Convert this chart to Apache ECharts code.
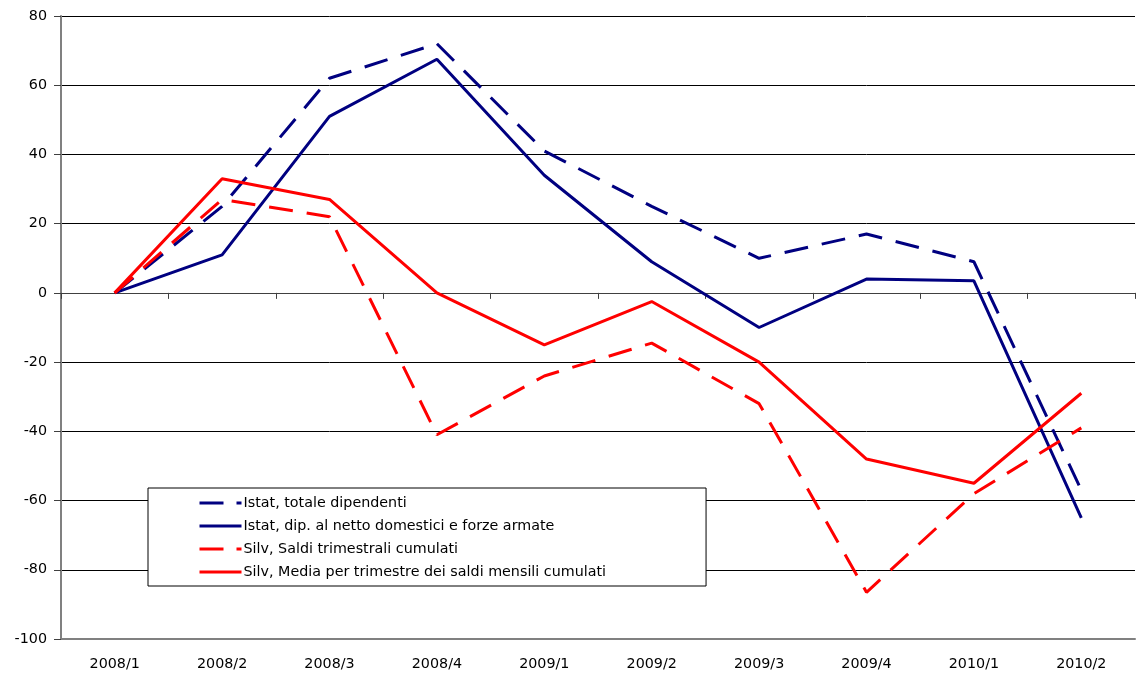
<!DOCTYPE html>
<html>
<head>
<meta charset="utf-8">
<script src="https://cdn.jsdelivr.net/npm/echarts@6/dist/echarts.min.js"></script>
<style>
  html, body { margin: 0; padding: 0; background: #fff; }
  #main { width: 1137px; height: 677px; }
</style>
</head>
<body>
<div id="main"></div>
<script>
  var quarters = ['2008/1', '2008/2', '2008/3', '2008/4', '2009/1', '2009/2', '2009/3', '2009/4', '2010/1', '2010/2'];
  var istatTotale = [0, 25, 62, 72, 41, 25, 10, 17, 9, -57];
  var istatNetto = [0, 11, 51, 67.5, 34, 9, -10, 4, 3.5, -65];
  var silvSaldi = [0, 27, 22, -41, -24, -14.5, -32, -86.5, -58, -39];
  var silvMedia = [0, 33, 27, 0, -15, -2.5, -20, -48, -55, -29];
  var seriesNames = ['Istat, totale dipendenti', 'Istat, dip. al netto domestici e forze armate',
                     'Silv, Saldi trimestrali cumulati', 'Silv, Media per trimestre dei saldi mensili cumulati'];

  var fontFam = 'DejaVu Sans';
  var dash = [24, 14];
  var legendDash = [24, 13];

  function legendItem(name, dashed) {
    return {
      name: name,
      itemStyle: { opacity: 0 },
      lineStyle: { width: 3, type: dashed ? legendDash : 'solid' }
    };
  }

  var myChart = echarts.init(document.getElementById('main'));
  var option = {
    animation: false,
    backgroundColor: '#fff',
    textStyle: { fontFamily: fontFam },
    grid: { left: 61, right: 2, top: 16, bottom: 38 },
    legend: {
      orient: 'vertical',
      left: 148,
      top: 488,
      padding: [8, 100, 7, 50],
      itemWidth: 42,
      itemHeight: 14,
      itemGap: 9,
      backgroundColor: '#fff',
      borderColor: '#000',
      borderWidth: 1,
      borderRadius: 0,
      textStyle: { fontFamily: fontFam, fontSize: 14.3, color: '#000', padding: [0, 0, 0, -3] },
      data: [
        legendItem(seriesNames[0], true),
        legendItem(seriesNames[1], false),
        legendItem(seriesNames[2], true),
        legendItem(seriesNames[3], false)
      ]
    },
    xAxis: [
      {
        type: 'category',
        data: quarters,
        position: 'bottom',
        boundaryGap: true,
        axisLine: { onZero: false, lineStyle: { color: '#808080', width: 2 } },
        axisTick: { show: false },
        axisLabel: { margin: 18, fontSize: 14.3, color: '#000', fontFamily: fontFam }
      },
      {
        type: 'category',
        data: quarters,
        position: 'top',
        boundaryGap: true,
        axisLine: { onZero: true, lineStyle: { color: '#404040', width: 1 } },
        axisTick: { show: true, inside: true, length: 6, lineStyle: { color: '#404040' } },
        axisLabel: { show: false }
      }
    ],
    yAxis: {
      type: 'value',
      min: -100,
      max: 80,
      interval: 20,
      axisLine: { show: true, lineStyle: { color: '#808080', width: 2 } },
      axisTick: { show: true, length: 7, lineStyle: { color: '#404040' } },
      axisLabel: { margin: 14, fontSize: 14.3, color: '#000', fontFamily: fontFam },
      splitLine: { show: true, lineStyle: { color: '#000', width: 1 } }
    },
    series: [
      {
        name: seriesNames[0],
        type: 'line',
        data: istatTotale,
        symbol: 'none',
        color: '#000080',
        lineStyle: { color: '#000080', width: 3, type: dash }
      },
      {
        name: seriesNames[1],
        type: 'line',
        data: istatNetto,
        symbol: 'none',
        color: '#000080',
        lineStyle: { color: '#000080', width: 3 }
      },
      {
        name: seriesNames[2],
        type: 'line',
        data: silvSaldi,
        symbol: 'none',
        color: '#ff0000',
        lineStyle: { color: '#ff0000', width: 3, type: dash }
      },
      {
        name: seriesNames[3],
        type: 'line',
        data: silvMedia,
        symbol: 'none',
        color: '#ff0000',
        lineStyle: { color: '#ff0000', width: 3 }
      }
    ]
  };
  myChart.setOption(option);
</script>
</body>
</html>
